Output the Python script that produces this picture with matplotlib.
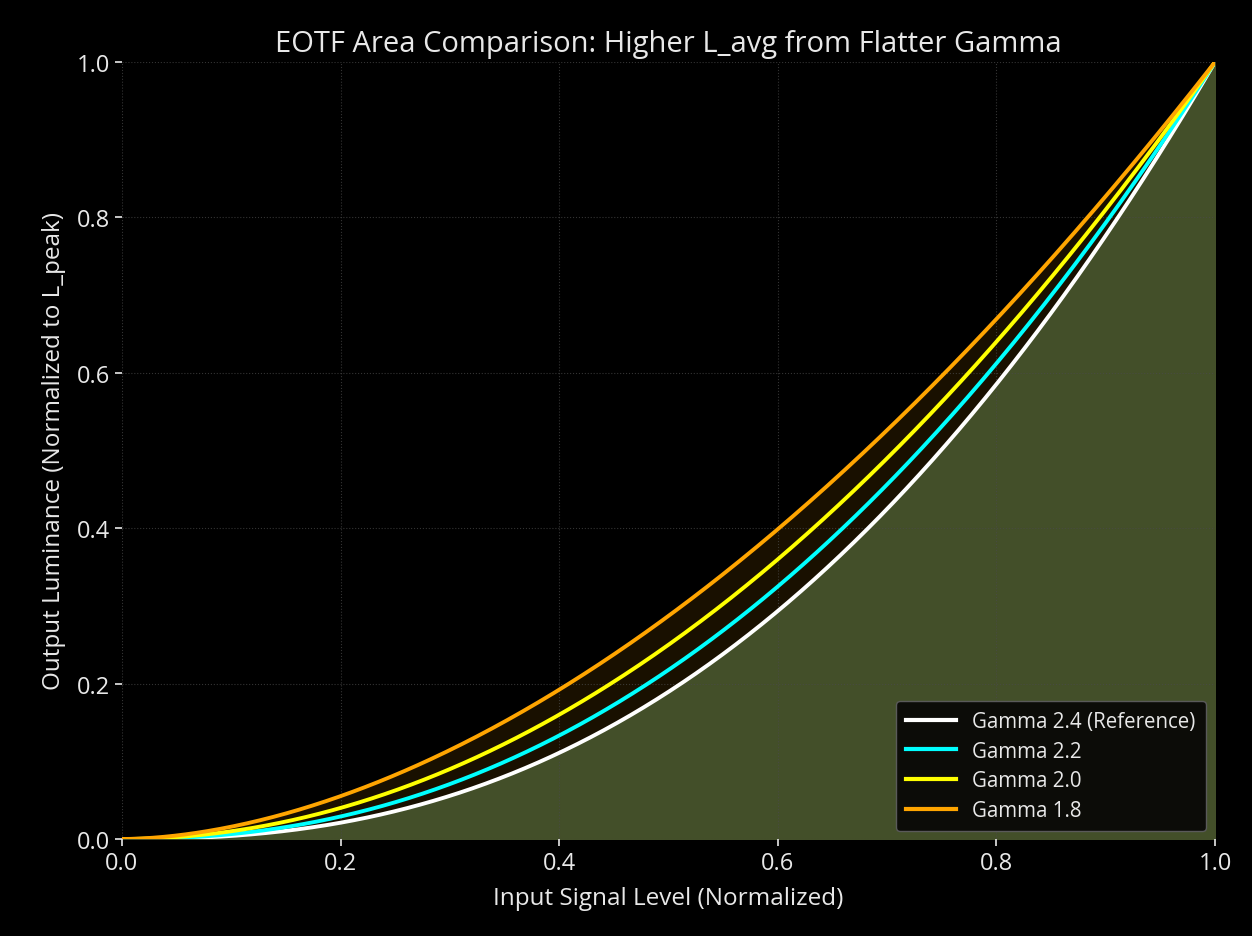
import numpy as np
import matplotlib
matplotlib.use('Agg')
import matplotlib.pyplot as plt

# gamma values for the four EOTF curves
gammas = [2.4, 2.2, 2.0, 1.8]
labels = ['Gamma 2.4 (Reference)', 'Gamma 2.2', 'Gamma 2.0', 'Gamma 1.8']
colors = ['#ffffff', '#00ffff', '#ffff00', '#ffa500']
ticks = [0.0, 0.2, 0.4, 0.6, 0.8, 1.0]

plt.rcParams['font.family'] = ['Open Sans', 'DejaVu Sans']
txt = '#e8e8e8'

fig = plt.figure(figsize=(12.52, 9.37), dpi=100, facecolor='black')
ax = fig.add_axes([0.0974, 0.1035, 0.8731, 0.8293], facecolor='black')

signal = np.linspace(0, 1, 500)
curves = [signal ** g for g in gammas]

# area under the reference curve and the extra area from the flatter gamma
ax.fill_between(signal, 0, curves[0], color='#434f29', zorder=1)
ax.fill_between(signal, curves[0], curves[-1], color='#ffa500', alpha=0.1, lw=0, zorder=1)

for y, lab, c in zip(curves, labels, colors):
    ax.plot(signal, y, color=c, lw=2.8, label=lab, zorder=3)

ax.set_xlim(0, 1)
ax.set_ylim(0, 1)
ax.set_xticks(ticks)
ax.set_yticks(ticks)
ax.tick_params(colors=txt, labelsize=17, length=5, width=1.2)
for s in ax.spines.values():
    s.set_visible(False)
ax.grid(True, color='#4a4a4a', ls=':', lw=0.8, alpha=0.7, zorder=0)

ax.set_title('EOTF Area Comparison: Higher L_avg from Flatter Gamma', color=txt, fontsize=21, pad=8)
ax.set_xlabel('Input Signal Level (Normalized)', color=txt, fontsize=17.5, labelpad=8)
ax.set_ylabel('Output Luminance (Normalized to L_peak)', color=txt, fontsize=17.5, labelpad=8)

leg = ax.legend(loc='lower right', fontsize=14.8, facecolor='#0c0c08', edgecolor='#5a5a5a',
                framealpha=1, labelcolor=txt, borderpad=0.5, handlelength=2.4,
                labelspacing=0.42, bbox_to_anchor=(1.0008, -0.003))
for line in leg.get_lines():
    line.set_linewidth(3)

fig.savefig('out.png', dpi=100, facecolor='black')
